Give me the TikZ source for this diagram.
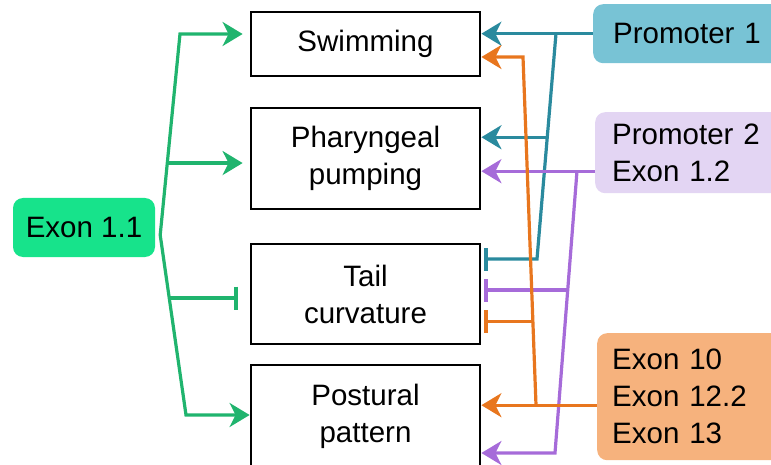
\documentclass[tikz,border=0pt]{standalone}
\usepackage{fontspec}
\setmainfont{Liberation Sans}
\usetikzlibrary{arrows.meta,calc}
\definecolor{gline}{HTML}{20B46E}
\definecolor{gfill}{HTML}{17E38B}
\definecolor{tline}{HTML}{2A8A9E}
\definecolor{tfill}{HTML}{78C3D5}
\definecolor{pline}{HTML}{A66BD9}
\definecolor{pfill}{HTML}{E3D5F3}
\definecolor{oline}{HTML}{E8761E}
\definecolor{ofill}{HTML}{F6B27D}
\tikzset{
  stagebox/.style={draw=black, line width=2.8pt, minimum width=229pt, align=center, inner sep=0pt},
  srcbox/.style={rounded corners=10pt, inner ysep=0pt, align=left, anchor=north west, text width=170pt},
  conn/.style={line width=3.2pt},
  arr/.style={-{Stealth[length=20pt,width=24pt,inset=6pt]}},
  inh/.style={-{Bar[width=23pt]}},
}
\begin{document}
\begin{tikzpicture}[x=1pt,y=-1pt, font=\fontsize{29.5}{37}\selectfont]
\useasboundingbox (0,0) rectangle (771,465);
% stage boxes
\node[stagebox, minimum height=64pt]  (sw) at (365.5,44)    {Swimming};
\node[stagebox, minimum height=101pt] (ph) at (365.5,158.5) {Pharyngeal\\pumping};
\node[stagebox, minimum height=100pt] (tc) at (365.5,294)   {Tail\\curvature};
\node[stagebox, minimum height=102pt] (pp) at (365.5,416)   {Postural\\pattern};
% source boxes
\node[fill=gfill, rounded corners=10pt, minimum width=142pt, minimum height=59pt, inner sep=0pt] (ex11) at (84,227.5) {Exon 1.1};
\node[srcbox, fill=tfill, inner xsep=20pt, minimum height=59pt] (p1) at (593,4) {Promoter 1};
\node[srcbox, fill=pfill, inner xsep=17pt, minimum height=81pt] (p2) at (595,112) {Promoter 2\\Exon 1.2};
\node[srcbox, fill=ofill, inner xsep=15pt, minimum height=127pt] (e10) at (597,333) {Exon 10\\Exon 12.2\\Exon 13};
% green connectors
\coordinate (g0) at ($(ex11.east)+(5,7.5)$);
\coordinate (g1) at (180,34);
\coordinate (g2) at (186,415);
\coordinate (gph) at ($(g0)!0.358!(g1)$);
\coordinate (gtc) at ($(g0)!0.35!(g2)$);
\draw[conn, gline, arr] (g0) -- (g1) -- ($(sw.west |- g1)+(-7,0)$);
\draw[conn, gline, arr] (gph) -- ($(ph.west |- gph)+(-7,0)$);
\draw[conn, gline, inh] (gtc) -- ($(tc.west |- gtc)+(-12,0)$);
\draw[conn, gline, arr] (g0) -- (g2) -- (pp.west |- g2);
% teal connectors
\coordinate (t0) at (556,33.5);
\coordinate (t1) at (537,259);
\coordinate (tph) at ($(t0)!0.46!(t1)$);
\draw[conn, tline, arr] (p1.west) -- (sw.east |- p1.west);
\draw[conn, tline, inh] (t0) -- (t1) -- ($(tc.east |- t1)+(3,0)$);
\draw[conn, tline, arr] (tph) -- (ph.east |- tph);
% purple connectors
\coordinate (p2o) at ($(p2.west)+(0,18.5)$);
\coordinate (u0) at (577,171);
\coordinate (u1) at (555,453);
\coordinate (utc) at ($(u0)!0.422!(u1)$);
\draw[conn, pline, arr] (p2o) -- (ph.east |- p2o);
\draw[conn, pline, arr] (u0) -- (u1) -- (pp.east |- u1);
\draw[conn, pline, inh] (utc) -- ($(tc.east |- utc)+(3,0)$);
% orange connectors
\coordinate (e10o) at ($(e10.west)+(0,8.5)$);
\coordinate (o0) at (536,405);
\coordinate (o1) at (523,57);
\coordinate (otc) at ($(o0)!0.241!(o1)$);
\draw[conn, oline, arr] (e10o) -- (pp.east |- e10o);
\draw[conn, oline, arr] (o0) -- (o1) -- (sw.east |- o1);
\draw[conn, oline, inh] (otc) -- ($(tc.east |- otc)+(3,0)$);
\end{tikzpicture}
\end{document}
